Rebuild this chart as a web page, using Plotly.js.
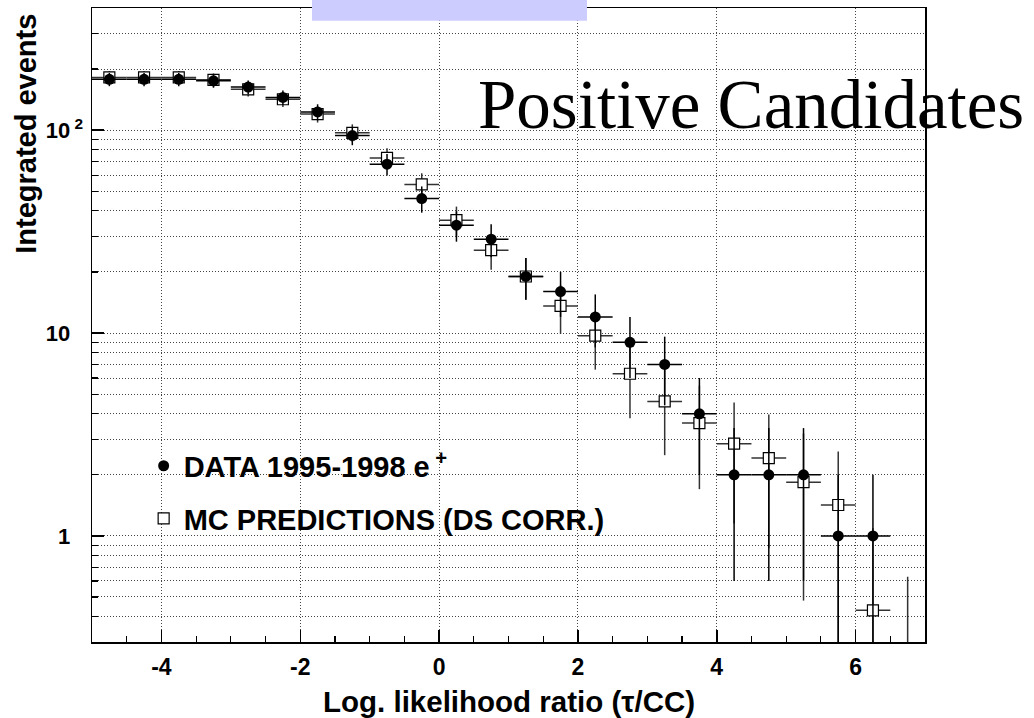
<!DOCTYPE html>
<html>
<head>
<meta charset="utf-8">
<script src="https://cdn.plot.ly/plotly-3.0.1.min.js"></script>
<style>html,body{margin:0;padding:0;background:#fff;}#chart{width:1034px;height:718px;}</style>
</head>
<body>
<div id="chart"></div>
<script>
// Bin centres of the log-likelihood ratio (bins 0.5 wide)
const binCenters = [-4.75,-4.25,-3.75,-3.25,-2.75,-2.25,-1.75,-1.25,-0.75,-0.25,0.25,0.75,1.25,1.75,2.25,2.75,3.25,3.75,4.25,4.75,5.25,5.75,6.25,6.75];
const binHalfWidth = 0.25;

// DATA 1995-1998 e+ (integrated events), no entry in the last bin
const dataValues = [178,178,178,175,163,145,123,94,68,46,34,29,19,16,12,9,7,4,2,2,2,1,1];
const dataErrors = [13.3,13.3,13.3,13.2,12.8,12,11.1,9.7,8.2,6.8,5.8,5.4,4.4,4,3.5,3,2.6,2,1.4,1.4,1.4,1,1];

// MC predictions (DS corr.)
const mcValues = [182,182,182,177,159,142,120,97,73,54,36,25.6,19,13.6,9.7,6.3,4.6,3.6,2.85,2.42,1.84,1.42,0.43,0.19];
const mcErrors = [13.5,13.5,13.5,13.3,12.6,11.9,11,9.8,8.5,7.3,6,5.1,4.4,3.7,3.1,2.5,2.1,1.9,1.7,1.55,1.36,1.19,0.66,0.44];

// Axis ticks
const xTickVals = [-4,-2,0,2,4,6];
const xTickText = ['-4','-2','0','2','4','6'];
const xMinorStep = 0.5;
const yMajorVals = [1,10,100];
const NB = '\u00a0';
const yMajorText = ['1<sup>' + NB + NB + NB + '</sup>', '10<sup>' + NB + NB + NB + '</sup>', '10<sup>' + NB + '2</sup>'];
const yMinorVals = [0.3,0.4,0.5,0.6,0.7,0.8,0.9,2,3,4,5,6,7,8,9,20,30,40,50,60,70,80,90,200,300,400];

const SANS = 'Liberation Sans, Arial, sans-serif';
const SERIF = 'Liberation Serif, Times New Roman, serif';
const GRID = '#444';
const DOT = '1px,2px';

const mcTrace = {
  x: binCenters.slice(0, mcValues.length),
  y: mcValues,
  type: 'scatter', mode: 'markers',
  name: 'MC PREDICTIONS (DS CORR.)',
  legendgroup: 'mc', legendrank: 2,
  marker: {symbol: 'square', size: 11, color: '#ffffff', line: {color: '#000', width: 1.2}},
  error_x: {type: 'constant', value: binHalfWidth, width: 0, color: '#333', thickness: 1.5},
  error_y: {type: 'data', array: mcErrors, arrayminus: mcErrors, symmetric: false, width: 0, color: '#333', thickness: 1.5},
  cliponaxis: true
};
const dataTrace = {
  x: binCenters.slice(0, dataValues.length),
  y: dataValues,
  type: 'scatter', mode: 'markers',
  name: 'DATA 1995-1998 e<sup> +</sup>',
  legendgroup: 'data', legendrank: 1,
  marker: {symbol: 'circle', size: 11, color: '#000'},
  error_x: {type: 'constant', value: binHalfWidth, width: 0, color: '#000', thickness: 1.5},
  error_y: {type: 'data', array: dataErrors, arrayminus: dataErrors, symmetric: false, width: 0, color: '#000', thickness: 1.5},
  cliponaxis: true
};

const layout = {
  width: 1034, height: 718,
  margin: {l: 92, r: 109, t: 8, b: 76, pad: 0},
  paper_bgcolor: '#fff', plot_bgcolor: '#fff',
  font: {family: SANS, color: '#000'},
  showlegend: true,
  legend: {
    x: 0.062, y: 0.318, xanchor: 'left', yanchor: 'top',
    bgcolor: 'rgba(0,0,0,0)', borderwidth: 0,
    font: {family: SANS, size: 29, weight: 'bold', color: '#000'},
    traceorder: 'grouped', tracegroupgap: 12,
    itemwidth: 30
  },
  xaxis: {
    range: [-5, 7], tickmode: 'array', tickvals: xTickVals, ticktext: xTickText,
    ticks: 'inside', ticklen: 12, tickwidth: 1.5, tickcolor: '#000',
    showline: true, linewidth: 1.5, linecolor: '#000', mirror: true,
    showgrid: true, gridcolor: GRID, gridwidth: 1, griddash: DOT,
    zeroline: false,
    ticklabelstandoff: 4,
    tickfont: {family: SANS, size: 23, weight: 'bold', color: '#000'},
    minor: {tickmode: 'linear', tick0: 0, dtick: xMinorStep, ticks: 'inside', ticklen: 6, tickwidth: 1.2, tickcolor: '#000', showgrid: false}
  },
  yaxis: {
    type: 'log', range: [Math.log10(0.3), Math.log10(400)],
    tickmode: 'array', tickvals: yMajorVals, ticktext: yMajorText,
    ticks: 'inside', ticklen: 12, tickwidth: 1.5, tickcolor: '#000',
    showline: true, linewidth: 1.5, linecolor: '#000', mirror: true,
    showgrid: true, gridcolor: GRID, gridwidth: 1, griddash: DOT,
    zeroline: false,
    ticklabelstandoff: 3,
    tickfont: {family: SANS, size: 22, weight: 'bold', color: '#000'},
    minor: {tickmode: 'array', tickvals: yMinorVals, ticks: 'inside', ticklen: 6, tickwidth: 1.2, tickcolor: '#000',
            showgrid: true, gridcolor: GRID, gridwidth: 1, griddash: DOT}
  },
  annotations: [
    {text: 'Positive Candidates', xref: 'paper', yref: 'paper', x: 1.1213, y: 0.8466,
     xanchor: 'right', yanchor: 'middle', showarrow: false,
     font: {family: SERIF, size: 69, color: '#000'}},
    {text: 'Log. likelihood ratio (τ/CC)', xref: 'paper', yref: 'paper', x: 0.5, y: -0.094,
     xanchor: 'center', yanchor: 'middle', showarrow: false,
     font: {family: SANS, size: 29.5, weight: 'bold', color: '#000'}},
    {text: 'Integrated events', xref: 'paper', yref: 'paper', x: -0.0785, y: 0.801,
     xanchor: 'center', yanchor: 'middle', showarrow: false, textangle: -90,
     font: {family: SANS, size: 29, weight: 'bold', color: '#000'}}
  ],
  shapes: [
    {type: 'rect', xref: 'paper', yref: 'paper', x0: 0.2641, x1: 0.5942, y0: 0.980, y1: 1.02,
     fillcolor: 'rgb(204,204,255)', line: {width: 0}, layer: 'above'}
  ]
};

Plotly.newPlot('chart', [mcTrace, dataTrace], layout, {displayModeBar: false, staticPlot: true});
</script>
</body>
</html>
